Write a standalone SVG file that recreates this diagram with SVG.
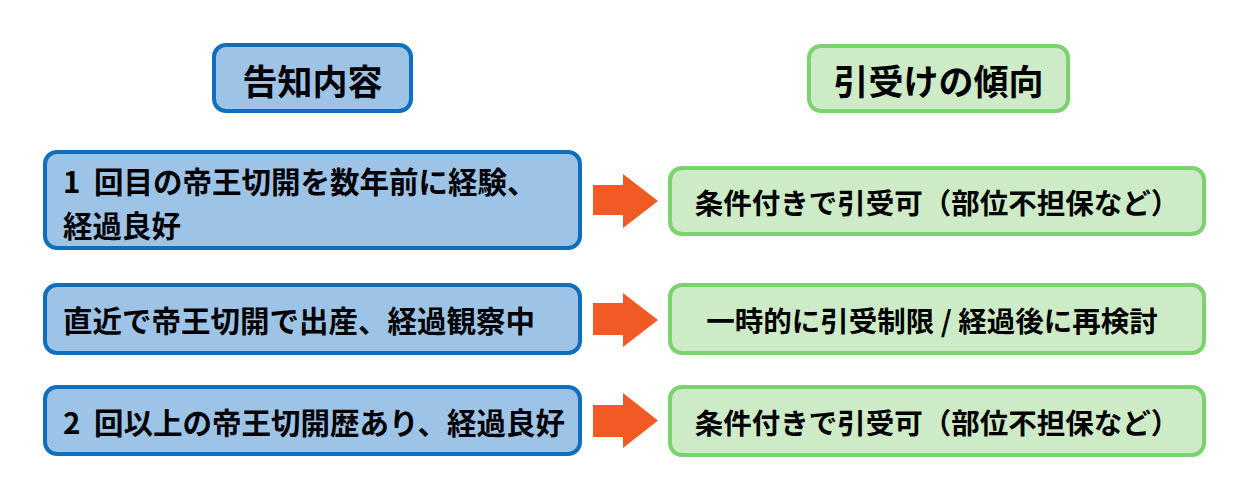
<svg xmlns="http://www.w3.org/2000/svg" width="1251" height="501" viewBox="0 0 1251 501">
<style>
.blue{fill:#9DC3E6;stroke:#0F6FBD;stroke-width:4}
.green{fill:#CDEBC6;stroke:#7CD26E;stroke-width:4}
.arr{fill:#F15A24}
text{font-family:"Noto Sans CJK JP","Noto Sans",sans-serif;font-weight:bold;fill:#000;dominant-baseline:central}
.h{font-size:35px;text-anchor:middle}
.l{font-size:29.5px}
.g{font-size:28.5px;text-anchor:middle}
</style>
<rect width="1251" height="501" fill="#FFFFFF"/>
<g id="header-left"><rect class="blue" x="214" y="45" width="197" height="66" rx="12"/><text class="h" x="312.5" y="79">告知内容</text></g>
<g id="header-right"><rect class="green" x="809" y="46" width="259" height="65" rx="12"/><text class="h" x="938.5" y="79">引受けの傾向</text></g>
<g id="left1"><rect class="blue" x="45" y="152" width="535" height="96" rx="12"/><text class="l" x="63" y="180" xml:space="preserve">1 <tspan dx="7">回目の帝王切開を数年前に経験、</tspan></text><text class="l" x="63" y="223.5">経過良好</text></g>
<g id="left2"><rect class="blue" x="45" y="285" width="535" height="68" rx="12"/><text class="l" x="63" y="319">直近で帝王切開で出産、経過観察中</text></g>
<g id="left3"><rect class="blue" x="45" y="387" width="535" height="67" rx="12"/><text class="l" x="63" y="420.5" xml:space="preserve">2 <tspan dx="7">回以上の帝王切開歴あり、経過良好</tspan></text></g>
<g id="right1"><rect class="green" x="670" y="168" width="534" height="66" rx="12"/><text class="g" x="937" y="201">条件付きで引受可（部位不担保など）</text></g>
<g id="right2"><rect class="green" x="670" y="285" width="534" height="68" rx="12"/><text class="g" x="932" y="319">一時的に引受制限 / 経過後に再検討</text></g>
<g id="right3"><rect class="green" x="670" y="387" width="534" height="68" rx="12"/><text class="g" x="937" y="421">条件付きで引受可（部位不担保など）</text></g>
<g id="connectors">
<polygon class="arr" points="593,185 623,185 623,174 658,201 623,228 623,215 593,215"/>
<polygon class="arr" points="593,303 623,303 623,293 658,320 623,347 623,335 593,335"/>
<polygon class="arr" points="593,405 623,405 623,393 658,420.5 623,448 623,437 593,437"/>
</g>
</svg>
